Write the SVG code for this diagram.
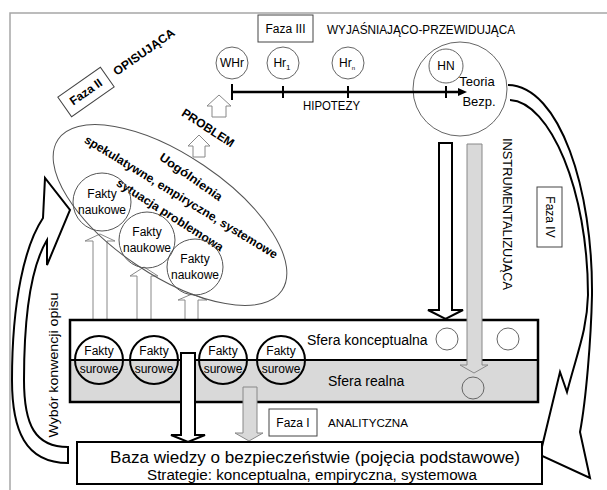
<svg xmlns="http://www.w3.org/2000/svg" width="607" height="490" viewBox="0 0 607 490">
<style>
text{font-family:"Liberation Sans",Arial,sans-serif;fill:#000}
.b{font-weight:bold}
.thin{fill:#fff;stroke:#666;stroke-width:1}
.gr{fill:#fff;stroke:#888;stroke-width:1}
.box{fill:#fff;stroke:#444;stroke-width:1}
.blk{fill:#fff;stroke:#000;stroke-width:2}
.c{text-anchor:middle}
</style>
<rect x="0" y="0" width="607" height="490" fill="#fff"/>
<rect x="10" y="13" width="620" height="500" fill="none" stroke="#a6a6a6" stroke-width="1.5"/>

<g id="connectors">
  <!-- left curved arrow -->
  <path d="M68,463 C25,463 12,430 12,380 C12,300 25,245 43,218 L45,178 L70,210 L47,265 L47,240 C35,260 24,300 24,380 C24,425 35,447 68,447 Z" fill="#fff" stroke="#000" stroke-width="2"/>
  <!-- right curved arrow -->
  <path d="M508,85 C560,86 593,190 592,295 C591,340 586,400 580,432 L590,478 L540,455 L560,372 L567,392 C578,350 587,330 588,295 C588,190 550,102 510,100" fill="#fff" stroke="#000" stroke-width="2"/>
  <!-- small up arrows near PROBLEM -->
  <path d="M212,117 L212,106 L207,106 L219,95 L231,106 L226,106 L226,117 Z" class="gr"/>
  <path d="M193,157 L193,146 L188,146 L199,135 L210,146 L205,146 L205,157 Z" class="gr"/>
  <!-- up arrows to Fakty naukowe -->
  <path d="M93,320 L93,241 L85,241 L100,234 L115,241 L107,241 L107,320 Z" class="gr"/>
  <path d="M137,320 L137,276 L130,276 L144,267 L158,276 L151,276 L151,320 Z" class="gr"/>
  <path d="M185,320 L185,300 L178,300 L192,294 L207,300 L198,300 L198,320 Z" class="gr"/>
</g>

<g id="ellipse-group">
  <ellipse cx="170" cy="215" rx="135" ry="60" transform="rotate(34 170 215)" fill="none" stroke="#555" stroke-width="1"/>
  <g transform="translate(191,177) rotate(35)"><text class="b c" font-size="12" dominant-baseline="central" textLength="74" lengthAdjust="spacingAndGlyphs">Uogólnienia</text></g>
  <g transform="translate(181,197) rotate(31.5)"><text class="b c" font-size="12" dominant-baseline="central" textLength="224" lengthAdjust="spacingAndGlyphs">spekulatywne, empiryczne, systemowe</text></g>
  <g transform="translate(170,215) rotate(32.5)"><text class="b c" font-size="12" dominant-baseline="central" textLength="124" lengthAdjust="spacingAndGlyphs">sytuacja problemowa</text></g>
</g>

<g id="faza2">
  <g transform="translate(86,92) rotate(-35)">
    <rect x="-26" y="-12" width="52" height="24" class="box"/>
    <text class="b c" font-size="12" y="4">Faza II</text>
  </g>
  <g transform="translate(144,52) rotate(-35)"><text class="b c" font-size="12" y="4" textLength="72" lengthAdjust="spacingAndGlyphs">OPISUJĄCA</text></g>
  <g transform="translate(208,128) rotate(33)"><text class="b c" font-size="12" y="4" textLength="60" lengthAdjust="spacingAndGlyphs">PROBLEM</text></g>
</g>

<g id="fakty-naukowe">
  <g id="fn1"><circle cx="102" cy="202" r="29" fill="none" stroke="#555"/><text class="c" font-size="12" x="102" y="198">Fakty</text><text class="c" font-size="12" x="102" y="214">naukowe</text></g>
  <g id="fn2"><circle cx="147" cy="240" r="28" fill="none" stroke="#555"/><text class="c" font-size="12" x="147" y="236">Fakty</text><text class="c" font-size="12" x="147" y="252">naukowe</text></g>
  <g id="fn3"><circle cx="195" cy="267" r="28" fill="none" stroke="#555"/><text class="c" font-size="12" x="195" y="263">Fakty</text><text class="c" font-size="12" x="195" y="279">naukowe</text></g>
</g>

<g id="faza3">
  <rect x="258" y="15" width="55" height="27" class="box"/>
  <text class="c" font-size="12" x="285.5" y="33">Faza III</text>
  <text font-size="12" x="327" y="34" textLength="188" lengthAdjust="spacingAndGlyphs">WYJAŚNIAJĄCO-PRZEWIDUJĄCA</text>
</g>

<g id="teoria">
  <circle cx="460" cy="89" r="47" fill="#fff" stroke="#666"/>
  <circle cx="446" cy="66" r="17" fill="none" stroke="#666"/>
  <text class="c" font-size="12" x="446" y="70">HN</text>
  <text class="c" font-size="13" x="477" y="86">Teoria</text>
  <text class="c" font-size="13" x="479" y="106">Bezp.</text>
</g>

<g id="hipotezy">
  <circle cx="232" cy="63" r="16" class="thin"/><text class="c" font-size="12" x="232" y="67">WHr</text>
  <circle cx="283" cy="63" r="16" class="thin"/><text class="c" font-size="12" x="282" y="67">Hr<tspan font-size="8" dy="3">1</tspan></text>
  <circle cx="348" cy="63" r="16" class="thin"/><text class="c" font-size="12" x="347" y="67">Hr<tspan font-size="6" dy="3">n</tspan></text>
  <path d="M232,92 H460" stroke="#000" stroke-width="2.5" fill="none"/>
  <path d="M458,88 L467,92 L458,96 Z" fill="#000"/>
  <path d="M232,84 V100 M283,86 V98 M348,86 V98 M446,86 V98" stroke="#000" stroke-width="2" fill="none"/>
  <text font-size="12" x="303" y="110" textLength="57" lengthAdjust="spacingAndGlyphs">HIPOTEZY</text>
</g>

<g id="faza4">
  <g transform="translate(507,214) rotate(90)"><text class="c" font-size="12" y="4" textLength="152" lengthAdjust="spacingAndGlyphs">INSTRUMENTALIZUJĄCA</text></g>
  <g transform="translate(549.5,217) rotate(90)">
    <rect x="-30" y="-12.5" width="60" height="25" class="box"/>
    <text class="c" font-size="12" y="4">Faza IV</text>
  </g>
</g>

<g id="sfera">
  <rect x="70" y="320" width="468" height="41" fill="#fff"/>
  <rect x="70" y="360" width="468" height="42" fill="#d9d9d9"/>
  <path d="M70,360 H538" stroke="#000" stroke-width="2"/>
  <rect x="70" y="320" width="468" height="82" fill="none" stroke="#000" stroke-width="2.5"/>
  <text font-size="14" x="307" y="345">Sfera konceptualna</text>
  <text font-size="14" x="328" y="386">Sfera realna</text>
  <circle cx="447" cy="339" r="11" fill="none" stroke="#666"/>
  <circle cx="508" cy="339" r="11" fill="none" stroke="#666"/>
  <circle cx="473" cy="388" r="11" fill="none" stroke="#666"/>
</g>

<g id="fakty-surowe">
  <g id="fs1"><circle cx="99" cy="360" r="24" fill="none" stroke="#000" stroke-width="2"/><text class="c" font-size="12" x="99" y="355">Fakty</text><text class="c" font-size="12" x="99" y="373">surowe</text></g>
  <g id="fs2"><circle cx="154" cy="360" r="24" fill="none" stroke="#000" stroke-width="2"/><text class="c" font-size="12" x="154" y="355">Fakty</text><text class="c" font-size="12" x="154" y="373">surowe</text></g>
  <g id="fs3"><circle cx="223" cy="360" r="24" fill="none" stroke="#000" stroke-width="2"/><text class="c" font-size="12" x="223" y="355">Fakty</text><text class="c" font-size="12" x="223" y="373">surowe</text></g>
  <g id="fs4"><circle cx="281" cy="360" r="24" fill="none" stroke="#000" stroke-width="2"/><text class="c" font-size="12" x="281" y="355">Fakty</text><text class="c" font-size="12" x="281" y="373">surowe</text></g>
</g>

<g id="connectors-down">
  <path d="M439,143 L452,143 L452,310 L463,310 L445.5,319 L428,310 L439,310 Z" class="blk"/>
  <path d="M467,144 L482,144 L482,365 L488,365 L474,373 L460,365 L467,365 Z" fill="#d9d9d9" stroke="#888" stroke-width="1"/>
  <path d="M181,353 L195,353 L195,435 L205,435 L188,442 L171,435 L181,435 Z" class="blk"/>
  <path d="M243,387 L257,387 L257,433 L263,433 L249,441 L235,433 L243,433 Z" fill="#d9d9d9" stroke="#888" stroke-width="1"/>
</g>

<g id="faza1">
  <rect x="269" y="409" width="48" height="27" class="box"/>
  <text class="c" font-size="12" x="293" y="427">Faza I</text>
  <text font-size="11" x="328" y="427" textLength="80" lengthAdjust="spacingAndGlyphs">ANALITYCZNA</text>
</g>

<g id="baza">
  <rect x="77" y="442" width="465" height="42" fill="#fff" stroke="#000" stroke-width="2"/>
  <text font-size="16" x="110" y="463" textLength="410" lengthAdjust="spacingAndGlyphs">Baza wiedzy o bezpieczeństwie (pojęcia podstawowe)</text>
  <text font-size="14" x="147" y="480" textLength="330" lengthAdjust="spacingAndGlyphs">Strategie: konceptualna, empiryczna, systemowa</text>
</g>

<g id="wybor">
  <g transform="translate(54,365) rotate(-90)"><text class="c" font-size="13" y="4" textLength="145" lengthAdjust="spacingAndGlyphs">Wybór konwencji opisu</text></g>
</g>
</svg>
